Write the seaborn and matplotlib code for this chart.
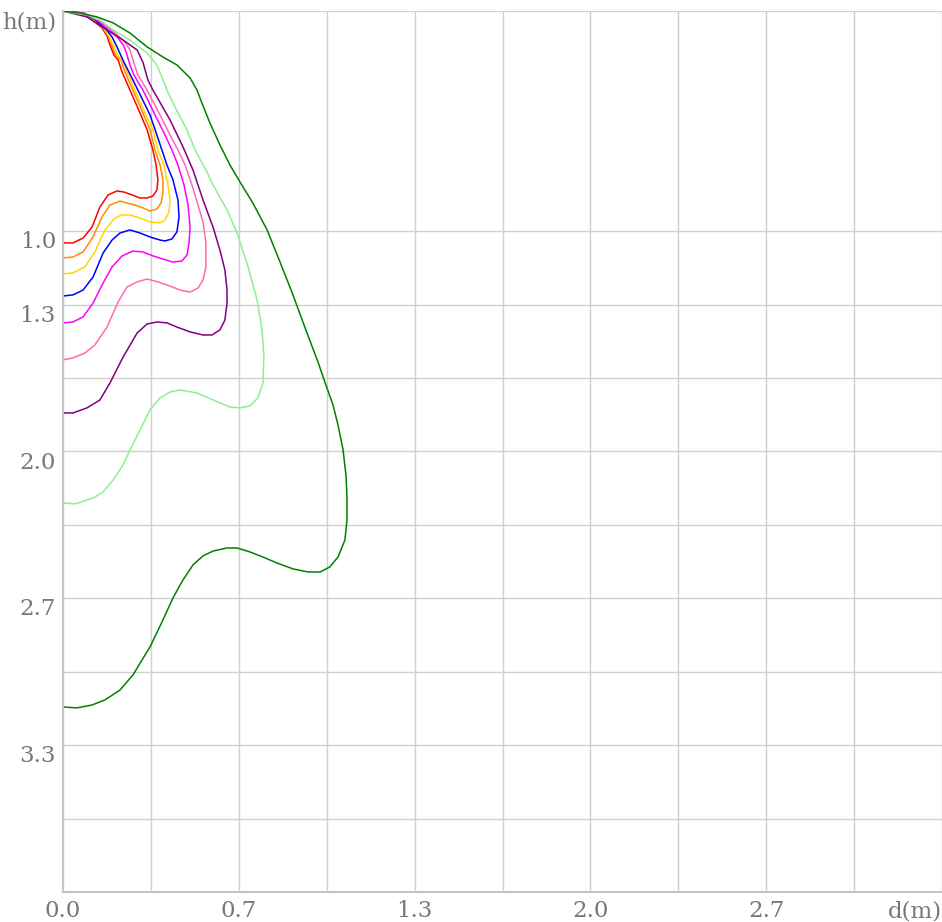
import numpy as np
import pandas as pd
import matplotlib
matplotlib.use("Agg")
import matplotlib.pyplot as plt
import seaborn as sns

# ---- data (d in m, h in m) ----
red_d = [0, 0.053, 0.102, 0.148, 0.167, 0.178, 0.193, 0.209, 0.224, 0.254, 0.292, 0.319, 0.341, 0.353, 0.360, 0.356, 0.341, 0.319, 0.292, 0.262, 0.231, 0.205, 0.171, 0.140, 0.110, 0.076, 0.038, 0]
red_h = [0, 0.005, 0.032, 0.077, 0.114, 0.154, 0.200, 0.222, 0.277, 0.359, 0.463, 0.540, 0.631, 0.699, 0.767, 0.813, 0.840, 0.849, 0.849, 0.835, 0.822, 0.817, 0.835, 0.890, 0.981, 1.031, 1.053, 1.053]

orange_d = [0, 0.057, 0.106, 0.152, 0.171, 0.186, 0.201, 0.220, 0.235, 0.265, 0.303, 0.330, 0.349, 0.368, 0.379, 0.379, 0.372, 0.356, 0.330, 0.303, 0.273, 0.243, 0.216, 0.178, 0.148, 0.114, 0.076, 0.038, 0]
orange_h = [0, 0.005, 0.032, 0.077, 0.114, 0.159, 0.204, 0.222, 0.277, 0.359, 0.463, 0.540, 0.631, 0.699, 0.767, 0.826, 0.872, 0.899, 0.908, 0.894, 0.881, 0.872, 0.863, 0.881, 0.935, 1.026, 1.094, 1.117, 1.121]

gold_d = [0, 0.064, 0.110, 0.155, 0.174, 0.193, 0.209, 0.228, 0.243, 0.273, 0.311, 0.341, 0.360, 0.383, 0.398, 0.406, 0.402, 0.387, 0.368, 0.330, 0.292, 0.254, 0.224, 0.197, 0.159, 0.121, 0.083, 0.038, 0]
gold_h = [0, 0.005, 0.032, 0.077, 0.114, 0.159, 0.204, 0.232, 0.277, 0.359, 0.463, 0.540, 0.631, 0.699, 0.790, 0.858, 0.913, 0.949, 0.962, 0.958, 0.940, 0.926, 0.926, 0.940, 0.994, 1.094, 1.162, 1.189, 1.194]

blue_d = [0, 0.072, 0.118, 0.163, 0.186, 0.205, 0.220, 0.231, 0.250, 0.284, 0.330, 0.356, 0.375, 0.394, 0.417, 0.436, 0.440, 0.432, 0.413, 0.387, 0.368, 0.330, 0.292, 0.254, 0.216, 0.186, 0.152, 0.114, 0.076, 0.038, 0]
blue_h = [0, 0.009, 0.036, 0.082, 0.118, 0.163, 0.204, 0.232, 0.277, 0.359, 0.472, 0.563, 0.631, 0.699, 0.767, 0.858, 0.935, 1.003, 1.035, 1.044, 1.040, 1.026, 1.008, 0.994, 1.008, 1.040, 1.099, 1.208, 1.267, 1.289, 1.294]

magenta_d = [0, 0.080, 0.129, 0.178, 0.209, 0.231, 0.243, 0.254, 0.269, 0.303, 0.349, 0.387, 0.413, 0.436, 0.459, 0.474, 0.482, 0.478, 0.470, 0.451, 0.417, 0.379, 0.341, 0.303, 0.265, 0.224, 0.186, 0.152, 0.114, 0.076, 0.038, 0]
magenta_h = [0, 0.009, 0.041, 0.086, 0.123, 0.159, 0.200, 0.245, 0.291, 0.359, 0.472, 0.563, 0.631, 0.699, 0.790, 0.881, 0.981, 1.053, 1.108, 1.135, 1.140, 1.126, 1.112, 1.094, 1.090, 1.112, 1.162, 1.235, 1.326, 1.389, 1.412, 1.416]

pink_d = [0, 0.087, 0.140, 0.193, 0.235, 0.254, 0.265, 0.284, 0.319, 0.368, 0.406, 0.436, 0.463, 0.489, 0.512, 0.531, 0.542, 0.542, 0.531, 0.512, 0.482, 0.444, 0.406, 0.360, 0.319, 0.281, 0.243, 0.209, 0.167, 0.121, 0.083, 0.038, 0]
pink_h = [0, 0.014, 0.045, 0.095, 0.141, 0.177, 0.222, 0.291, 0.359, 0.472, 0.563, 0.631, 0.699, 0.790, 0.881, 0.958, 1.053, 1.162, 1.221, 1.258, 1.276, 1.267, 1.249, 1.230, 1.217, 1.230, 1.253, 1.321, 1.435, 1.516, 1.553, 1.575, 1.584]

purple_d = [0, 0.091, 0.167, 0.228, 0.281, 0.303, 0.322, 0.341, 0.356, 0.406, 0.455, 0.493, 0.531, 0.569, 0.595, 0.614, 0.622, 0.622, 0.614, 0.595, 0.565, 0.531, 0.482, 0.432, 0.394, 0.356, 0.319, 0.281, 0.228, 0.178, 0.140, 0.091, 0.038, 0]
purple_h = [0, 0.027, 0.086, 0.132, 0.177, 0.232, 0.313, 0.359, 0.390, 0.495, 0.617, 0.722, 0.858, 0.981, 1.085, 1.176, 1.267, 1.326, 1.403, 1.448, 1.471, 1.471, 1.457, 1.435, 1.416, 1.412, 1.421, 1.462, 1.571, 1.689, 1.766, 1.802, 1.825, 1.825]

lgreen_d = [0, 0.091, 0.140, 0.190, 0.254, 0.319, 0.356, 0.375, 0.394, 0.425, 0.470, 0.501, 0.542, 0.569, 0.622, 0.660, 0.702, 0.736, 0.755, 0.762, 0.758, 0.739, 0.709, 0.671, 0.633, 0.569, 0.508, 0.444, 0.406, 0.368, 0.330, 0.292, 0.254, 0.224, 0.190, 0.152, 0.114, 0.046, 0]
lgreen_h = [0, 0.018, 0.041, 0.086, 0.132, 0.191, 0.245, 0.300, 0.359, 0.436, 0.540, 0.631, 0.722, 0.790, 0.903, 1.008, 1.162, 1.312, 1.448, 1.571, 1.689, 1.757, 1.793, 1.802, 1.798, 1.766, 1.734, 1.721, 1.730, 1.757, 1.811, 1.902, 1.993, 2.070, 2.129, 2.184, 2.211, 2.238, 2.234]

green_d = [0, 0.064, 0.129, 0.190, 0.254, 0.319, 0.379, 0.432, 0.482, 0.508, 0.527, 0.557, 0.595, 0.633, 0.671, 0.720, 0.774, 0.823, 0.868, 0.921, 0.967, 0.997, 1.024, 1.043, 1.062, 1.073, 1.077, 1.077, 1.069, 1.043, 1.012, 0.975, 0.929, 0.872, 0.811, 0.758, 0.709, 0.660, 0.622, 0.569, 0.531, 0.493, 0.455, 0.417, 0.379, 0.330, 0.265, 0.216, 0.159, 0.110, 0.053, 0]
green_h = [0, 0.009, 0.027, 0.054, 0.100, 0.163, 0.209, 0.245, 0.304, 0.359, 0.418, 0.508, 0.608, 0.699, 0.776, 0.872, 0.994, 1.140, 1.276, 1.448, 1.594, 1.698, 1.789, 1.880, 1.993, 2.107, 2.206, 2.311, 2.402, 2.479, 2.524, 2.547, 2.547, 2.533, 2.506, 2.479, 2.456, 2.438, 2.438, 2.452, 2.474, 2.515, 2.583, 2.665, 2.765, 2.887, 3.015, 3.083, 3.128, 3.151, 3.164, 3.160]

series_names = ["red", "orange", "gold", "blue", "magenta", "hotpink", "purple", "lightgreen", "green"]
series_d = [red_d, orange_d, gold_d, blue_d, magenta_d, pink_d, purple_d, lgreen_d, green_d]
series_h = [red_h, orange_h, gold_h, blue_h, magenta_h, pink_h, purple_h, lgreen_h, green_h]
colors = ["#ff0000", "#ff8c00", "#ffd700", "#0000ff", "#ff00ff", "#ff69b4", "#800080", "#90ee90", "#008000"]

x_ticks = [i / 3 for i in range(11)]
x_labels = ["0.0", "", "0.7", "", "1.3", "", "2.0", "", "2.7", "", "d(m)"]
y_ticks = [0, 1.0, 4 / 3, 5 / 3, 2.0, 7 / 3, 8 / 3, 3.0, 10 / 3, 11 / 3, 4.0]
y_labels = ["h(m)", "1.0", "1.3", "", "2.0", "", "2.7", "", "3.3", "", ""]

rows = []
for name, ds, hs in zip(series_names, series_d, series_h):
    for i, (d, h) in enumerate(zip(ds, hs)):
        rows.append({"series": name, "d": d, "h": h, "i": i})
df = pd.DataFrame(rows)

sns.set_style("white")
plt.rcParams["font.family"] = ["DejaVu Serif"]

W, H = 942, 922
fig = plt.figure(figsize=(W / 100, H / 100), dpi=100)
ax = fig.add_axes([63 / W, (H - 892) / H, (942 - 63) / W, (892 - 11) / H])

sns.lineplot(data=df, x="d", y="h", hue="series", hue_order=series_names,
             palette=colors, sort=False, estimator=None, units="series",
             legend=False, linewidth=1.1, ax=ax)

ax.set_xlim(0, 10 / 3)
ax.set_ylim(4, 0)
ax.set_xticks(x_ticks)
ax.set_xticklabels(x_labels)
ax.set_yticks(y_ticks)
ax.set_yticklabels(y_labels)
ax.set_xlabel("")
ax.set_ylabel("")
ax.grid(True, color="#d0d0d0", linewidth=1.0)
ax.set_axisbelow(True)
ax.tick_params(axis="both", length=0, labelsize=16.5, labelcolor="#777777")
ax.tick_params(axis="x", pad=6)
ax.tick_params(axis="y", pad=5)
for lab in ax.get_yticklabels():
    lab.set_verticalalignment("top")
xl = ax.get_xticklabels()
xl[-1].set_horizontalalignment("right")
for s in ["top", "right"]:
    ax.spines[s].set_visible(False)
for s in ["left", "bottom"]:
    ax.spines[s].set_color("#c4c4c4")
    ax.spines[s].set_linewidth(1.5)

fig.savefig("out.png", dpi=100)
